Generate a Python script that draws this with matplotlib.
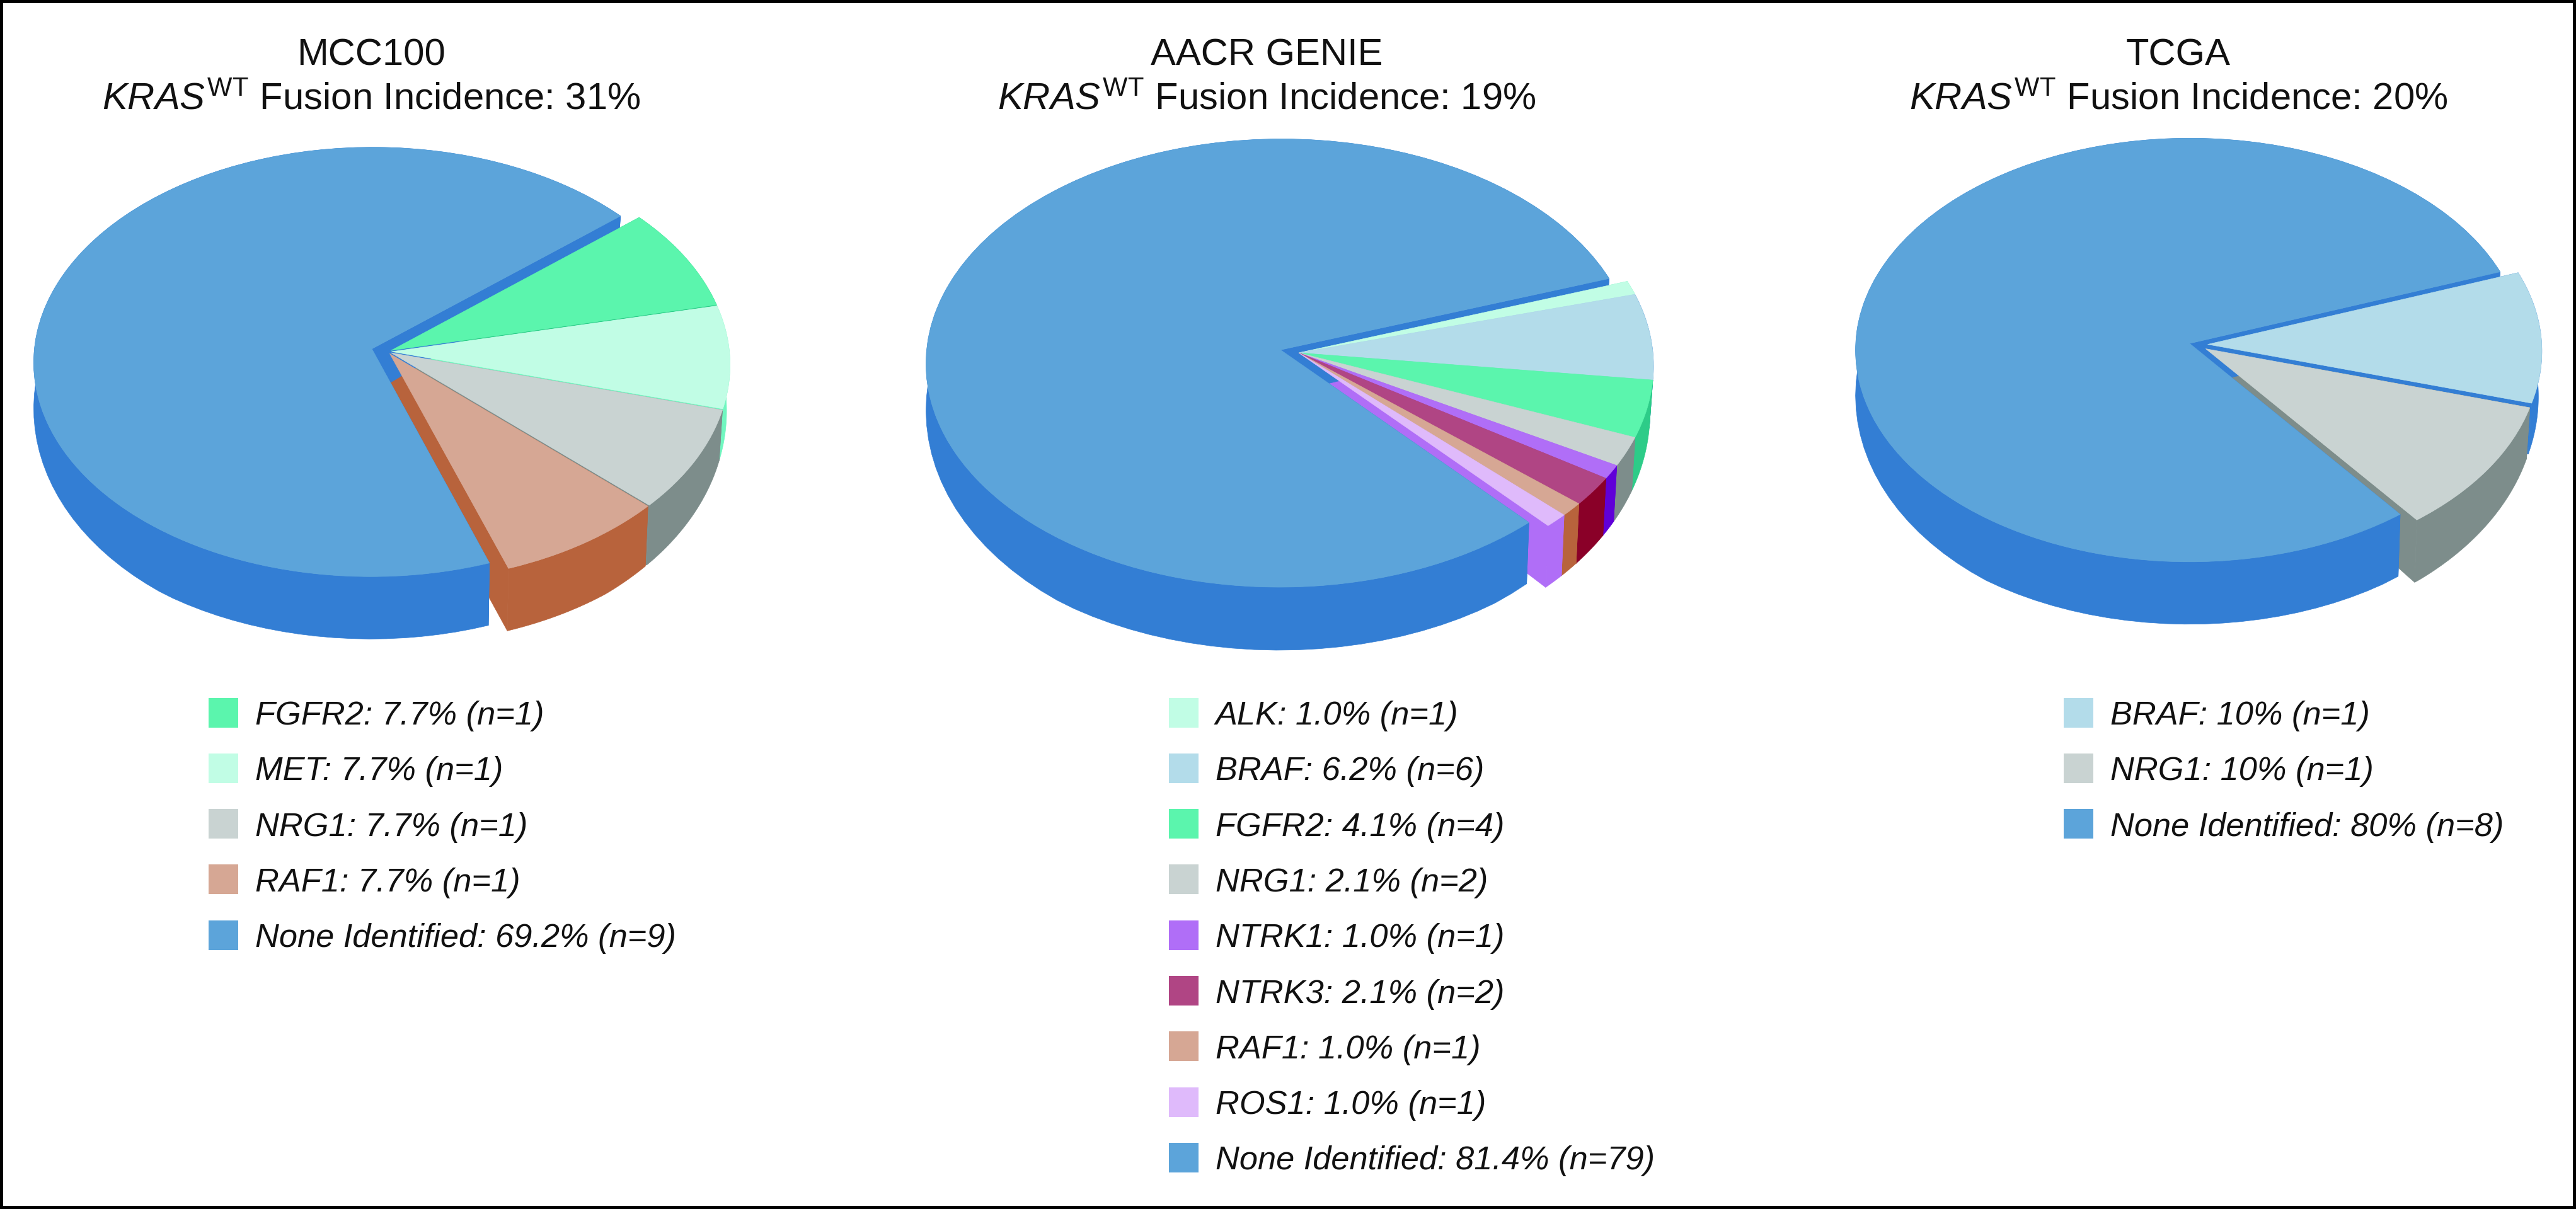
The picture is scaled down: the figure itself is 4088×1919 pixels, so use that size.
import numpy as np
import matplotlib
matplotlib.use("Agg")
import matplotlib.pyplot as plt
from matplotlib.patches import Rectangle
from matplotlib.transforms import Transform

FONT = "Liberation Sans"
plt.rcParams.update({
    "font.family": FONT,
    "mathtext.fontset": "custom",
    "mathtext.rm": FONT,
    "mathtext.it": FONT + ":italic",
})

# values
TITLES = ["MCC100", "AACR GENIE", "TCGA"]
INCIDENCE = [31, 19, 20]

GENES_MCC = ["FGFR2", "MET", "NRG1", "RAF1", "None Identified"]
PCT_MCC = [7.7, 7.7, 7.7, 7.7, 69.2]
LABELS_MCC = ["7.7%", "7.7%", "7.7%", "7.7%", "69.2%"]
N_MCC = [1, 1, 1, 1, 9]

GENES_GENIE = ["ALK", "BRAF", "FGFR2", "NRG1", "NTRK1", "NTRK3", "RAF1", "ROS1", "None Identified"]
PCT_GENIE = [1.0, 6.2, 4.1, 2.1, 1.0, 2.1, 1.0, 1.0, 81.4]
LABELS_GENIE = ["1.0%", "6.2%", "4.1%", "2.1%", "1.0%", "2.1%", "1.0%", "1.0%", "81.4%"]
N_GENIE = [1, 6, 4, 2, 1, 2, 1, 1, 79]

GENES_TCGA = ["BRAF", "NRG1", "None Identified"]
PCT_TCGA = [10, 10, 80]
LABELS_TCGA = ["10%", "10%", "80%"]
N_TCGA = [1, 1, 8]

# top colour, side colour
COLORS = {
    "None Identified": ("#5ca4da", "#337ed4"),
    "FGFR2": ("#5bf5ad", "#2dcc88"),
    "MET": ("#c1fde5", "#70f7c0"),
    "ALK": ("#c1fde5", "#70f7c0"),
    "NRG1": ("#c9d3d2", "#7d8d8b"),
    "RAF1": ("#d6a794", "#b8633c"),
    "BRAF": ("#b3dcea", "#337ed4"),
    "NTRK1": ("#b06ef7", "#6000d8"),
    "NTRK3": ("#b04584", "#8a0028"),
    "ROS1": ("#dfbafb", "#b06ef7"),
}

W, H = 4088, 1919


class Tilt(Transform):
    """Pie plane (unit disc) to pixels, with a little perspective."""
    input_dims = output_dims = 2
    is_separable = False

    def __init__(self, cx, cy, rx, ry, k):
        super().__init__()
        self.cx, self.cy, self.rx, self.ry, self.k = cx, cy, rx, ry, k

    def transform_non_affine(self, values):
        values = np.asarray(values)
        w = 1 + self.k * values[:, 1]
        return np.column_stack([self.cx + self.rx * values[:, 0] / w,
                                self.cy - self.ry * values[:, 1] / w])


def lower(tilt, pts, depth):
    # same points, on the bottom face of the disc
    xy = tilt.transform_non_affine(pts)
    f = np.minimum(1, 1 - 0.35 * (pts[:, 1] + 0.8))
    return np.column_stack([xy[:, 0] - 0.01 * np.maximum(xy[:, 0] - tilt.cx, 0),
                            xy[:, 1] + depth * f])


def side(ax, tilt, pts, depth, color, zorder):
    top = tilt.transform_non_affine(pts)
    bot = lower(tilt, pts, depth)
    poly = np.vstack([top, bot[::-1]])
    ax.fill(poly[:, 0], poly[:, 1], color=color, lw=0.5, zorder=zorder)


def draw_pie(ax, genes, pct, tilt, depth, start, explode):
    wedges, _ = ax.pie(pct, explode=explode, startangle=start, counterclock=False,
                       colors=[COLORS[g][0] for g in genes], radius=1)
    for w, g in zip(wedges, genes):
        c = COLORS[g][1]
        z = 3 if g == "None Identified" else 2
        a = np.radians(np.linspace(w.theta1, w.theta2, 90))
        ctr = np.array(w.center)
        arc = ctr + w.r * np.column_stack([np.cos(a), np.sin(a)])
        side(ax, tilt, arc, depth, c, z)
        for end in (arc[0], arc[-1]):
            side(ax, tilt, np.linspace(ctr, end, 30), depth, c, z)
        w.set_transform(tilt + ax.transData)
        w.set_edgecolor(COLORS[g][0])
        w.set_linewidth(0.5)
        w.set_zorder(5)


def draw_legend(ax, genes, labels, counts, x, y0=1131, step=88.3):
    for i, (g, p, n) in enumerate(zip(genes, labels, counts)):
        y = y0 + i * step
        ax.add_patch(Rectangle((x, y - 23.5), 47, 47, color=COLORS[g][0], lw=0, zorder=6))
        ax.text(x + 74, y, f"{g}: {p} (n={n})", ha="left", va="center_baseline",
                fontsize=37.7, style="italic", color="#111111")


fig = plt.figure(figsize=(W / 100, H / 100), dpi=100, facecolor="white")
ax = fig.add_axes([0, 0, 1, 1])

# pie 1
t1 = Tilt(615, 558, 536, 340, 0.061)
draw_pie(ax, GENES_MCC, PCT_MCC, t1, 99, 40.2, [0.012, 0.012, 0.012, 0.012, 0.048])
# pie 2
t2 = Tilt(2061, 560, 562, 355, 0.059)
draw_pie(ax, GENES_GENIE, PCT_GENIE, t2, 100, 19, [0, 0, 0, 0, 0, 0, 0, 0, 0.053])
# pie 3
t3 = Tilt(3485, 547, 530, 336, 0.031)
draw_pie(ax, GENES_TCGA, PCT_TCGA, t3, 99, 20, [0.035, 0.035, 0.02])

draw_legend(ax, GENES_MCC, LABELS_MCC, N_MCC, 331)
draw_legend(ax, GENES_GENIE, LABELS_GENIE, N_GENIE, 1855)
draw_legend(ax, GENES_TCGA, LABELS_TCGA, N_TCGA, 3275)

for title, inc, xc in zip(TITLES, INCIDENCE, [589, 2010, 3457]):
    ax.text(xc, 103, title, ha="center", va="baseline", fontsize=43, color="#111111")
    ax.text(xc, 174, r"$\mathit{KRAS}^{\mathrm{WT}}$ Fusion Incidence: " + f"{inc}%",
            ha="center", va="baseline", fontsize=43, color="#111111")

ax.set_aspect("auto")
ax.set_xlim(0, W)
ax.set_ylim(H, 0)
ax.set_xticks([])
ax.set_yticks([])
ax.set_frame_on(True)
for s in ax.spines.values():
    s.set_linewidth(7.2)
    s.set_color("black")

fig.savefig("out.png", dpi=100)
